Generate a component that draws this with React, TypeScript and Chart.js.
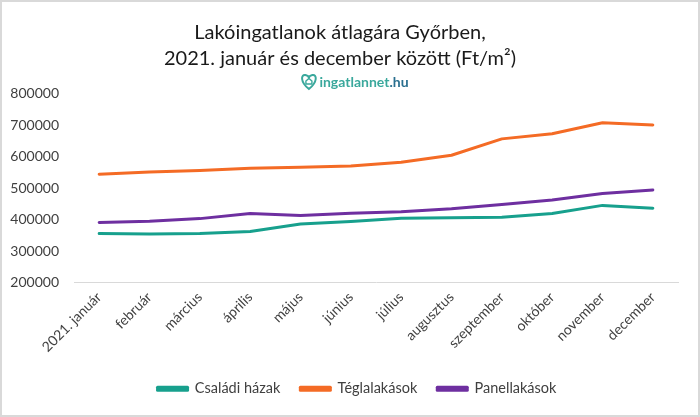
import React, { useEffect, useRef } from "react";
import { Chart, registerables } from "chart.js";

Chart.register(...registerables);

const months = [
  "2021. január", "február", "március", "április", "május", "június",
  "július", "augusztus", "szeptember", "október", "november", "december",
];
const csaladiHazak = [357000, 355000, 357000, 363000, 387000, 395000, 405000, 407000, 408000, 420000, 446000, 437000];
const teglalakasok = [545000, 552000, 557000, 564000, 567000, 571000, 583000, 605000, 657000, 673000, 708000, 701000];
const panellakasok = [392000, 396000, 404000, 420000, 414000, 421000, 426000, 435000, 449000, 463000, 484000, 495000];
const titleLines = ["Lakóingatlanok átlagára Győrben,", "2021. január és december között (Ft/m²)"];
const logoMain = "ingatlannet";
const logoSuffix = ".hu";

const FONT = "Lato, 'Open Sans', sans-serif";

const logoPlugin = {
  id: "logoPlugin",
  afterLayout(chart: any) {
    if (chart.legend) {
      chart.legend.left += 17;
      chart.legend.right += 17;
    }
  },
  afterDraw(chart: any) {
    const ctx = chart.ctx as CanvasRenderingContext2D;
    const cx = 353;
    const cy = 80;
    ctx.save();
    ctx.font = `bold 14px ${FONT}`;
    const w1 = ctx.measureText(logoMain).width;
    const w2 = ctx.measureText(logoSuffix).width;
    const heartW = 15;
    const total = heartW + 3 + w1 + w2;
    let x = cx - total / 2;
    const hx = x + heartW / 2;
    const hy = cy;
    ctx.strokeStyle = "#3aa89c";
    ctx.lineWidth = 2;
    ctx.beginPath();
    ctx.moveTo(hx, hy + 7);
    ctx.bezierCurveTo(hx - 9, hy, hx - 8, hy - 8, hx - 3.5, hy - 7);
    ctx.bezierCurveTo(hx - 1.5, hy - 6.5, hx, hy - 5, hx, hy - 4);
    ctx.bezierCurveTo(hx, hy - 5, hx + 1.5, hy - 6.5, hx + 3.5, hy - 7);
    ctx.bezierCurveTo(hx + 8, hy - 8, hx + 9, hy, hx, hy + 7);
    ctx.closePath();
    ctx.stroke();
    ctx.lineWidth = 1.4;
    ctx.beginPath();
    ctx.moveTo(hx - 3, hy + 2);
    ctx.lineTo(hx - 3, hy - 1);
    ctx.lineTo(hx, hy - 3.5);
    ctx.lineTo(hx + 3, hy - 1);
    ctx.lineTo(hx + 3, hy + 2);
    ctx.closePath();
    ctx.stroke();
    x += heartW + 3;
    ctx.textBaseline = "middle";
    ctx.textAlign = "left";
    ctx.fillStyle = "#3aa89c";
    ctx.fillText(logoMain, x, cy);
    ctx.fillStyle = "#2a6f8f";
    ctx.fillText(logoSuffix, x + w1, cy);
    ctx.restore();
  },
};

export default function App() {
  const ref = useRef<HTMLCanvasElement>(null);
  useEffect(() => {
    document.body.style.margin = "0";
    const chart = new Chart(ref.current!, {
      type: "line",
      data: {
        labels: months,
        datasets: [
          { label: "Családi házak", data: csaladiHazak, borderColor: "#17a08d", backgroundColor: "#17a08d" },
          { label: "Téglalakások", data: teglalakasok, borderColor: "#f46b25", backgroundColor: "#f46b25" },
          { label: "Panellakások", data: panellakasok, borderColor: "#6e2fa0", backgroundColor: "#6e2fa0" },
        ],
      },
      options: {
        responsive: false,
        animation: false,
        devicePixelRatio: 1,
        elements: {
          line: { borderWidth: 3, tension: 0, borderCapStyle: "round", borderJoinStyle: "round" },
          point: { radius: 0 },
        },
        layout: { padding: { top: 0, right: 20, left: 0, bottom: 9 } },
        plugins: {
          title: {
            display: true,
            text: titleLines,
            color: "#1a1a1a",
            font: { family: FONT, size: 20, weight: "normal", lineHeight: 1.32 },
            padding: { top: 17, bottom: 22 },
          },
          legend: {
            position: "bottom",
            labels: {
              color: "#404040",
              font: { family: FONT, size: 14.5 },
              boxWidth: 30,
              boxHeight: 3,
              padding: 20,
            },
          },
          tooltip: { enabled: false },
        },
        scales: {
          x: {
            offset: true,
            grid: { display: false, drawTicks: false },
            border: { display: true, color: "#d9d9d9", width: 1 },
            ticks: {
              color: "#404040",
              font: { family: FONT, size: 14 },
              minRotation: 45,
              maxRotation: 45,
              padding: 6,
              autoSkip: false,
            },
          },
          y: {
            min: 200000,
            max: 800000,
            grid: { display: false, drawTicks: false },
            border: { display: false },
            afterFit: (scale: any) => { scale.width = 72; },
            ticks: {
              stepSize: 100000,
              color: "#404040",
              font: { family: FONT, size: 14 },
              padding: 15,
              callback: (v: any) => String(v),
            },
          },
        },
      },
      plugins: [logoPlugin],
    } as any);
    return () => chart.destroy();
  }, []);
  return (
    <div style={{ width: 700, height: 417, boxSizing: "border-box", border: "2px solid #d9d9d9", background: "#fff" }}>
      <canvas ref={ref} width={696} height={413} style={{ display: "block" }} />
    </div>
  );
}
